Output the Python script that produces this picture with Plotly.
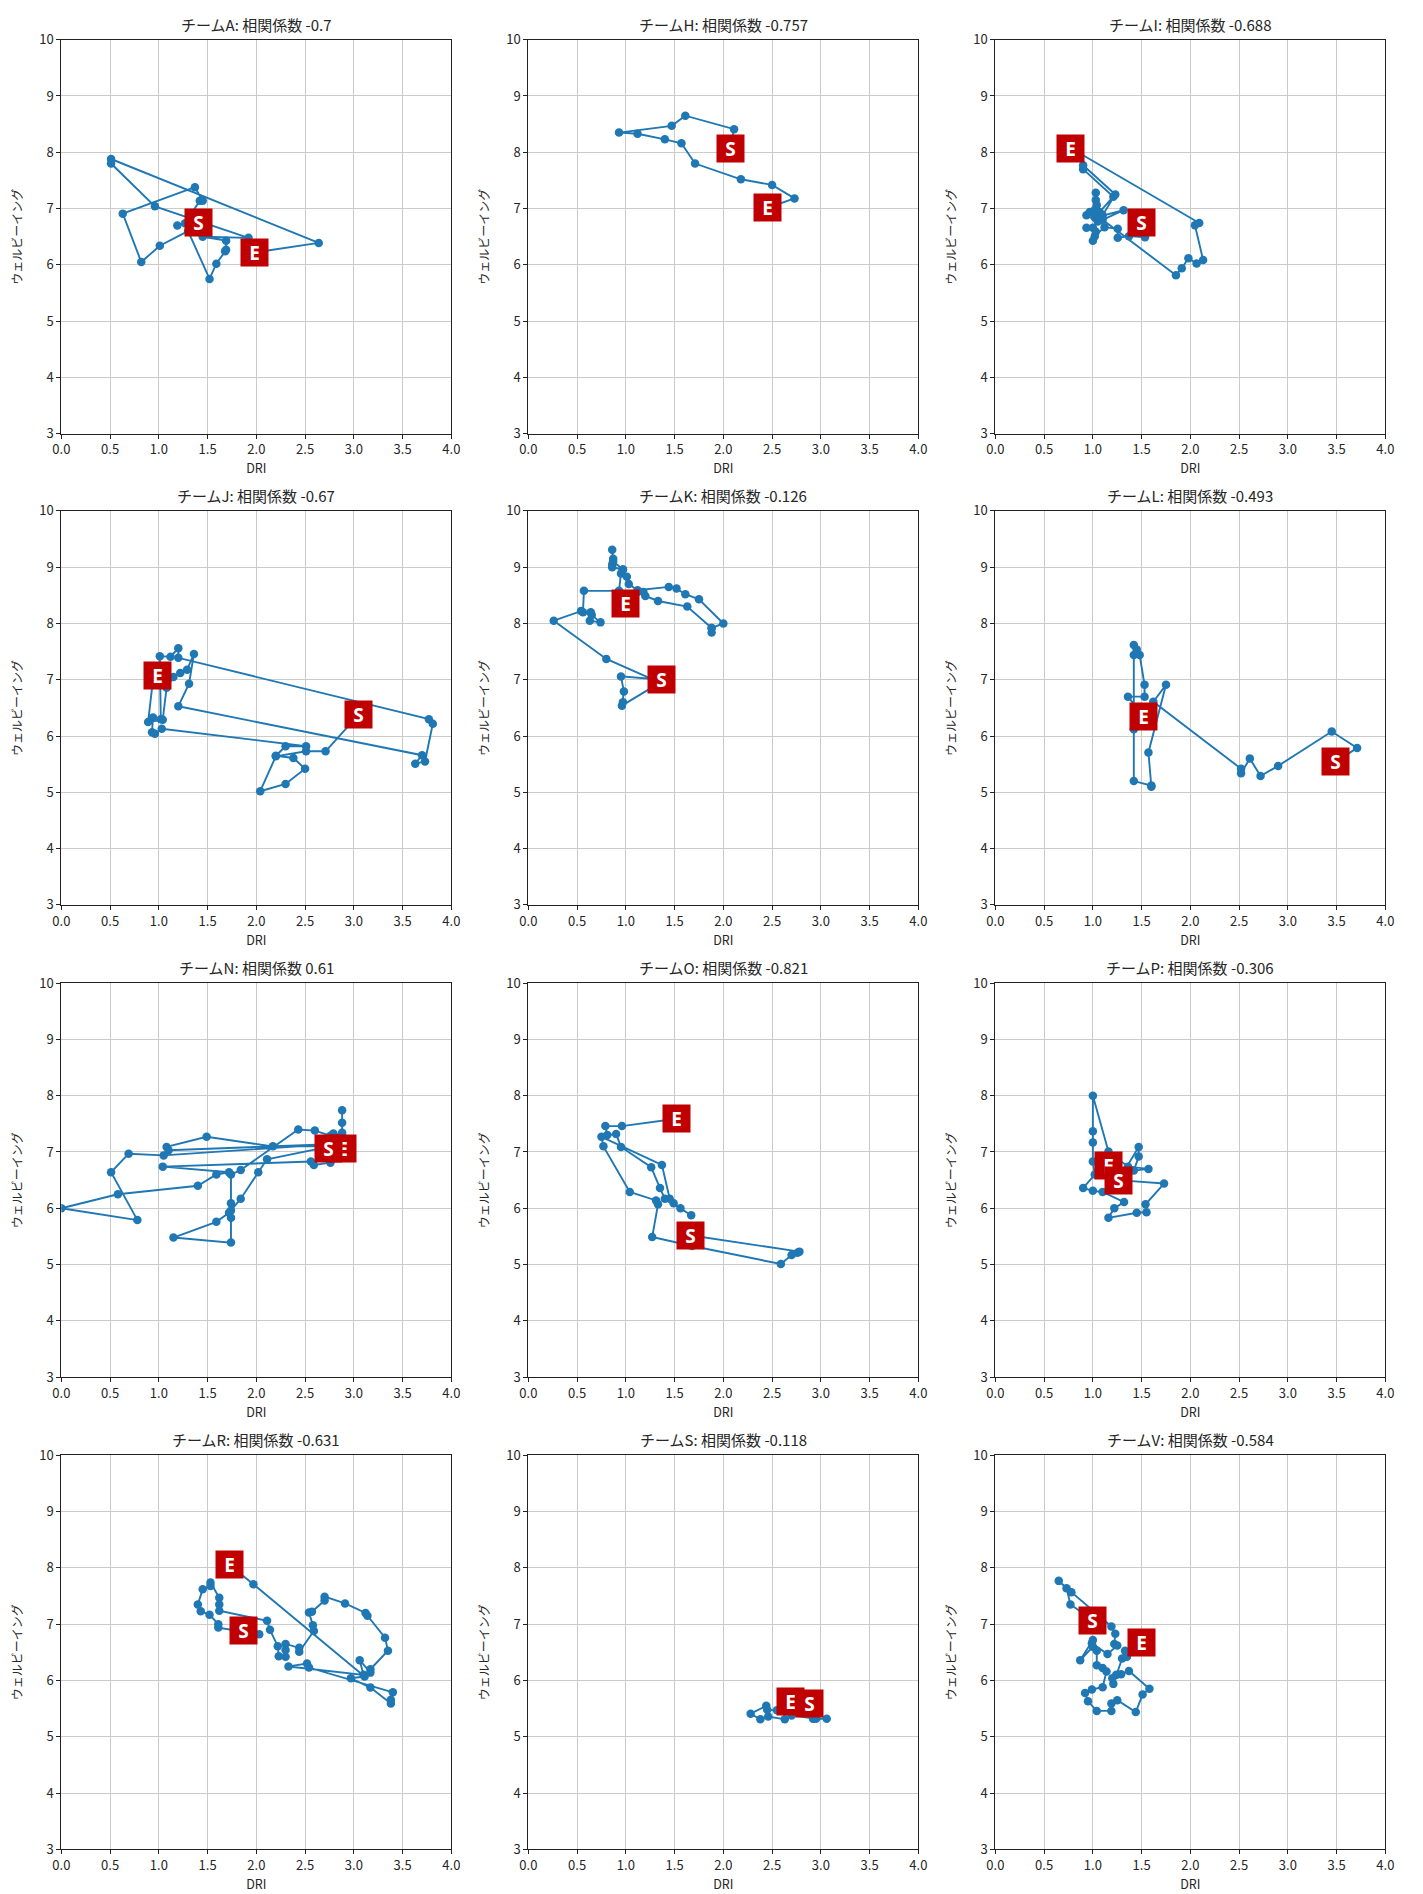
import plotly.graph_objects as go

teams = ["A", "H", "I", "J", "K", "L", "N", "O", "P", "R", "S", "V"]
corr_labels = ["-0.7", "-0.757", "-0.688", "-0.67", "-0.126", "-0.493",
               "0.61", "-0.821", "-0.306", "-0.631", "-0.118", "-0.584"]

A_dri = [1.41, 1.19, 1.27, 1.42, 1.45, 1.37, 0.63, 0.82, 1.01, 1.30, 1.52, 1.59, 1.68, 1.69, 1.69, 1.45, 1.92, 0.96, 0.51, 0.51, 2.64, 1.98]
A_wb = [6.75, 6.70, 6.74, 7.14, 7.14, 7.38, 6.91, 6.05, 6.34, 6.60, 5.75, 6.02, 6.24, 6.27, 6.43, 6.50, 6.48, 7.04, 7.80, 7.88, 6.39, 6.22]

H_dri = [2.07, 2.11, 1.61, 1.47, 0.93, 1.12, 1.40, 1.57, 1.71, 2.18, 2.50, 2.73, 2.45]
H_wb = [8.07, 8.41, 8.65, 8.47, 8.35, 8.33, 8.23, 8.16, 7.80, 7.52, 7.42, 7.18, 7.01]

I_dri = [1.50, 1.535, 1.37, 1.255, 1.255, 1.12, 1.02, 1.00, 1.03, 0.934, 1.00, 1.05, 0.934, 0.968, 1.02, 1.04, 1.03, 1.03, 1.07, 1.21, 0.90, 0.90, 1.23, 1.10, 1.02, 1.315, 1.10, 1.852, 1.912, 1.98, 2.064, 2.131, 2.047, 2.091, 0.772]
I_wb = [6.76, 6.49, 6.51, 6.48, 6.64, 6.67, 6.51, 6.43, 6.59, 6.66, 6.66, 6.77, 6.88, 6.94, 6.98, 7.06, 7.15, 7.28, 6.94, 7.21, 7.70, 7.77, 7.25, 6.88, 6.84, 6.97, 6.80, 5.816, 5.94, 6.116, 6.022, 6.086, 6.702, 6.744, 8.075]

J_dri = [3.05, 2.71, 2.51, 2.20, 2.04, 2.30, 2.50, 2.38, 2.20, 2.30, 2.51, 1.03, 0.96, 0.93, 0.94, 1.02, 1.01, 1.12, 1.20, 1.20, 3.77, 3.81, 3.73, 3.63, 3.70, 1.20, 1.31, 1.36, 1.29, 1.22, 1.15, 1.08, 1.04, 0.89, 0.94, 0.99]
J_wb = [6.38, 5.73, 5.73, 5.64, 5.02, 5.15, 5.42, 5.61, 5.65, 5.82, 5.82, 6.13, 6.04, 6.07, 6.33, 6.30, 7.42, 7.41, 7.56, 7.39, 6.30, 6.22, 5.55, 5.51, 5.66, 6.53, 6.93, 7.46, 7.18, 7.12, 7.05, 6.86, 6.29, 6.25, 7.00, 7.08]

K_dri = [1.37, 0.95, 0.98, 0.97, 0.96, 1.35, 0.80, 0.26, 0.54, 0.64, 0.63, 0.74, 0.65, 0.56, 0.57, 0.93, 0.95, 0.97, 0.86, 0.86, 0.87, 0.86, 0.87, 0.97, 1.01, 1.03, 1.12, 1.44, 1.52, 1.61, 1.75, 2.00, 1.88, 1.88, 1.88, 1.63, 1.33, 1.20, 1.18, 1.00]
K_wb = [7.00, 7.06, 6.79, 6.60, 6.54, 6.95, 7.37, 8.05, 8.22, 8.20, 8.05, 8.02, 8.15, 8.20, 8.58, 8.58, 8.89, 8.96, 9.00, 9.05, 9.15, 9.31, 9.10, 8.96, 8.83, 8.70, 8.59, 8.65, 8.62, 8.52, 8.43, 8.00, 7.92, 7.84, 7.92, 8.30, 8.40, 8.49, 8.56, 8.35]

L_dri = [3.49, 3.71, 3.45, 2.90, 2.72, 2.61, 2.52, 2.52, 1.62, 1.75, 1.57, 1.60, 1.60, 1.42, 1.42, 1.42, 1.42, 1.45, 1.48, 1.53, 1.53, 1.36, 1.52]
L_wb = [5.54, 5.79, 6.08, 5.47, 5.29, 5.60, 5.34, 5.42, 6.61, 6.91, 5.71, 5.10, 5.12, 5.20, 6.12, 7.44, 7.62, 7.54, 7.44, 6.91, 6.70, 6.70, 6.35]

N_dri = [2.74, 2.88, 2.88, 2.88, 2.88, 2.79, 2.76, 2.60, 2.43, 1.84, 1.74, 1.74, 1.74, 1.74, 1.74, 1.15, 1.59, 1.72, 1.84, 2.02, 2.11, 2.76, 2.17, 1.49, 1.08, 1.10, 2.76, 1.05, 0.69, 0.51, 0.78, 0.00, 0.58, 1.40, 1.59, 1.72, 1.04, 2.56, 2.59, 2.76, 2.88]
N_wb = [7.06, 7.34, 7.52, 7.74, 7.30, 7.33, 7.29, 7.38, 7.40, 6.68, 6.60, 6.09, 5.96, 5.83, 5.39, 5.48, 5.76, 5.92, 6.17, 6.64, 6.87, 7.10, 7.10, 7.27, 7.09, 7.03, 7.14, 6.94, 6.97, 6.64, 5.79, 6.00, 6.25, 6.40, 6.60, 6.64, 6.74, 6.83, 6.77, 6.81, 7.06]

O_dri = [1.66, 2.78, 2.76, 2.70, 2.59, 1.68, 1.27, 1.33, 1.31, 1.04, 0.77, 0.75, 1.37, 1.45, 1.49, 1.56, 1.67, 1.40, 1.35, 1.26, 0.95, 0.90, 0.81, 0.79, 0.96, 1.52]
O_wb = [5.52, 5.23, 5.21, 5.17, 5.01, 5.33, 5.49, 6.07, 6.14, 6.29, 7.10, 7.27, 6.77, 6.17, 6.09, 6.00, 5.875, 6.17, 6.36, 6.73, 7.09, 7.32, 7.30, 7.46, 7.46, 7.59]

P_dri = [1.26, 1.73, 1.54, 1.55, 1.45, 1.16, 1.22, 1.32, 1.10, 1.00, 0.90, 1.02, 1.00, 1.00, 1.00, 1.00, 1.16, 1.36, 1.57, 1.42, 1.47, 1.47, 1.30, 1.16]
P_wb = [6.50, 6.44, 6.07, 5.93, 5.92, 5.83, 6.00, 6.11, 6.29, 6.31, 6.36, 6.60, 6.83, 7.17, 7.37, 8.00, 7.01, 6.74, 6.70, 6.67, 6.92, 7.09, 6.60, 6.76]

R_dri = [1.87, 2.03, 1.61, 1.61, 1.52, 1.43, 1.40, 1.45, 1.53, 1.53, 1.62, 1.62, 1.62, 2.11, 2.14, 2.22, 2.23, 2.30, 2.30, 2.30, 2.44, 2.44, 2.59, 2.58, 2.54, 2.57, 2.70, 2.70, 2.91, 3.12, 3.14, 3.32, 3.35, 3.17, 3.17, 3.06, 3.10, 2.33, 2.52, 2.54, 3.40, 3.38, 3.38, 3.17, 2.97, 3.11, 1.97, 1.72]
R_wb = [6.89, 6.82, 6.94, 7.00, 7.17, 7.23, 7.35, 7.62, 7.68, 7.74, 7.47, 7.35, 7.24, 7.06, 6.90, 6.61, 6.43, 6.42, 6.54, 6.65, 6.58, 6.51, 6.88, 6.98, 7.21, 7.22, 7.42, 7.49, 7.37, 7.20, 7.15, 6.76, 6.53, 6.20, 6.14, 6.36, 6.10, 6.25, 6.30, 6.23, 5.79, 5.66, 5.59, 5.875, 6.04, 6.07, 7.71, 8.06]

S_dri = [2.88, 2.92, 3.06, 2.95, 2.70, 2.63, 2.46, 2.38, 2.28, 2.44, 2.45, 2.55, 2.69]
S_wb = [5.60, 5.32, 5.32, 5.32, 5.38, 5.31, 5.36, 5.31, 5.41, 5.55, 5.48, 5.47, 5.63]

V_dri = [1.00, 0.77, 0.73, 0.65, 0.78, 1.19, 1.23, 1.22, 1.25, 1.15, 0.99, 1.00, 0.87, 1.00, 1.04, 1.04, 1.10, 1.14, 1.10, 0.99, 0.92, 0.95, 1.04, 1.19, 1.19, 1.25, 1.44, 1.51, 1.58, 1.37, 1.29, 1.20, 1.21, 1.24, 1.30, 1.33, 1.35, 1.50]
V_wb = [7.07, 7.35, 7.64, 7.77, 7.57, 6.96, 6.83, 6.65, 6.62, 6.47, 6.66, 6.60, 6.36, 6.72, 6.53, 6.27, 6.22, 6.16, 5.88, 5.84, 5.78, 5.63, 5.46, 5.46, 5.59, 5.65, 5.44, 5.75, 5.855, 6.17, 6.11, 6.04, 5.94, 6.10, 6.39, 6.53, 6.42, 6.67]

x_ticks = [0.0, 0.5, 1.0, 1.5, 2.0, 2.5, 3.0, 3.5, 4.0]
y_ticks = [3, 4, 5, 6, 7, 8, 9, 10]

series = [(A_dri, A_wb), (H_dri, H_wb), (I_dri, I_wb), (J_dri, J_wb),
          (K_dri, K_wb), (L_dri, L_wb), (N_dri, N_wb), (O_dri, O_wb),
          (P_dri, P_wb), (R_dri, R_wb), (S_dri, S_wb), (V_dri, V_wb)]

# layout geometry (pixels)
W, H = 1423, 1894
col_left = [53, 526, 999]
row_top = [30, 506, 983, 1460]
pw, ph = 395, 398

FONT = "Noto Sans CJK JP"
BLUE = "#1f77b4"
RED = "#c00000"

fig = go.Figure()
layout = dict(width=W, height=H, margin=dict(l=0, r=0, t=0, b=0),
              paper_bgcolor="white", plot_bgcolor="white", showlegend=False,
              font=dict(family=FONT, color="#262626"))
annotations = []

for i, team in enumerate(teams):
    r, c = divmod(i, 3)
    k = i + 1
    sx = "" if k == 1 else str(k)
    x0 = col_left[c] / W
    x1 = (col_left[c] + pw) / W
    y1 = 1 - row_top[r] / H
    y0 = 1 - (row_top[r] + ph) / H
    xs, ys = series[i]
    fig.add_trace(go.Scatter(
        x=xs, y=ys, mode="lines+markers", xaxis="x" + sx, yaxis="y" + sx,
        line=dict(color=BLUE, width=1.9), marker=dict(color=BLUE, size=8.5),
        hoverinfo="skip"))
    axis_common = dict(showline=True, mirror=True, linecolor="#222", linewidth=1,
                       showgrid=True, gridcolor="#cbcbcb", gridwidth=1,
                       ticks="outside", ticklen=4, tickcolor="#222",
                       tickfont=dict(family=FONT, size=13, color="#262626"),
                       zeroline=False, fixedrange=True)
    layout["xaxis" + sx] = dict(
        axis_common, domain=[x0, x1], anchor="y" + sx, range=[0, 4],
        tickvals=x_ticks, ticktext=[f"{v:.1f}" for v in x_ticks],
        title=dict(text="DRI", font=dict(family=FONT, size=12.5, color="#262626"), standoff=4))
    layout["yaxis" + sx] = dict(
        axis_common, domain=[y0, y1], anchor="x" + sx, range=[3, 10],
        tickvals=y_ticks, ticktext=[str(v) for v in y_ticks],
        title=dict(text="ウェルビーイング", font=dict(family=FONT, size=12, color="#262626"), standoff=14))
    annotations.append(dict(
        text=f"チーム{team}: 相関係数 {corr_labels[i]}", xref="paper", yref="paper",
        x=(x0 + x1) / 2, y=y1, xanchor="center", yanchor="bottom", yshift=3,
        showarrow=False, font=dict(family=FONT, size=15, color="#262626")))
    # end label first so the start label sits on top
    for lbl, idx in (("E", -1), ("S", 0)):
        annotations.append(dict(
            text=f"<b>{lbl}</b>", xref="x" + sx, yref="y" + sx,
            x=xs[idx], y=ys[idx], xanchor="center", yanchor="middle",
            showarrow=False, bgcolor=RED, borderpad=2, width=23, height=23,
            align="center", valign="middle",
            font=dict(family="Open Sans", size=19, color="white")))

layout["annotations"] = annotations
fig.update_layout(**layout)
fig.write_html("out.html", config={"displayModeBar": False},
               post_script="document.body.style.margin='0';")
